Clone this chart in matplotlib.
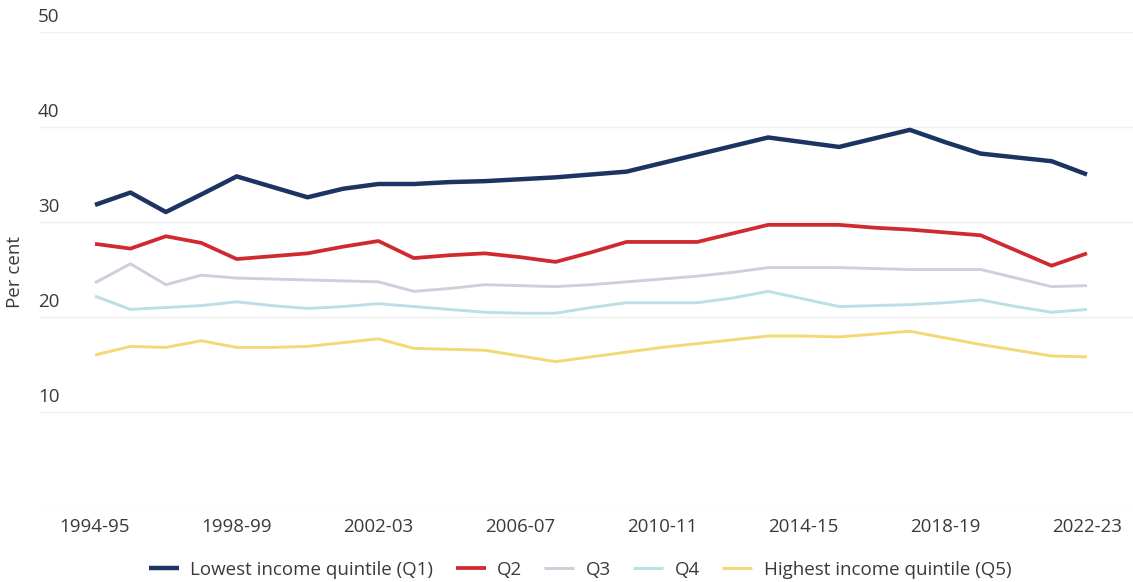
import matplotlib
matplotlib.use("Agg")
import matplotlib.pyplot as plt

plt.rcParams['font.family'] = ['Open Sans', 'DejaVu Sans']

years = ['1994-95', '1995-96', '1996-97', '1997-98', '1998-99', '1999-00',
         '2000-01', '2001-02', '2002-03', '2003-04', '2004-05', '2005-06',
         '2006-07', '2007-08', '2008-09', '2009-10', '2010-11', '2011-12',
         '2012-13', '2013-14', '2014-15', '2015-16', '2016-17', '2017-18',
         '2018-19', '2019-20', '2020-21', '2021-22', '2022-23']

q1 = [31.8, 33.1, 31.05, 32.9, 34.8, 33.7, 32.6, 33.5, 34.0, 34.0, 34.2, 34.3,
      34.5, 34.7, 35.0, 35.3, 36.2, 37.1, 38.0, 38.9, 38.4, 37.9, 38.8, 39.7,
      38.4, 37.2, 36.8, 36.4, 35.0]
q2 = [27.7, 27.2, 28.5, 27.8, 26.1, 26.4, 26.7, 27.4, 28.0, 26.2, 26.5, 26.7,
      26.3, 25.8, 26.8, 27.9, 27.9, 27.9, 28.8, 29.7, 29.7, 29.7, 29.4, 29.2,
      28.9, 28.6, 27.0, 25.4, 26.7]
q3 = [23.6, 25.6, 23.4, 24.4, 24.1, 24.0, 23.9, 23.8, 23.7, 22.7, 23.0, 23.4,
      23.3, 23.2, 23.4, 23.7, 24.0, 24.3, 24.7, 25.2, 25.2, 25.2, 25.1, 25.0,
      25.0, 25.0, 24.1, 23.2, 23.3]
q4 = [22.2, 20.8, 21.0, 21.2, 21.6, 21.2, 20.9, 21.1, 21.4, 21.1, 20.8, 20.5,
      20.4, 20.4, 21.0, 21.5, 21.5, 21.5, 22.0, 22.7, 21.9, 21.1, 21.2, 21.3,
      21.5, 21.8, 21.1, 20.5, 20.8]
q5 = [16.0, 16.9, 16.8, 17.5, 16.8, 16.8, 16.9, 17.3, 17.7, 16.7, 16.6, 16.5,
      15.9, 15.3, 15.8, 16.3, 16.8, 17.2, 17.6, 18.0, 18.0, 17.9, 18.2, 18.5,
      17.8, 17.1, 16.5, 15.9, 15.8]

SERIES = [
    ('Lowest income quintile (Q1)', q1, '#1b3461', 3.2),
    ('Q2', q2, '#cf2a2f', 2.7),
    ('Q3', q3, '#cfcfdb', 2.1),
    ('Q4', q4, '#bcdfe4', 2.1),
    ('Highest income quintile (Q5)', q5, '#f4d873', 2.1),
]

y_ticks = [10, 20, 30, 40, 50]
FS = 13.5
TXT = '#3a3a3a'


def main():
    fig = plt.figure(figsize=(11.33, 5.82), dpi=100)
    ax = fig.add_axes([40 / 1133, 75 / 582, 1 - 40 / 1133, (507 - 32) / 582])

    x = list(range(len(years)))
    for label, vals, color, lw in SERIES:
        ax.plot(x, vals, color=color, lw=lw, label=label,
                solid_joinstyle='round', solid_capstyle='butt')

    ax.set_ylim(0, 50)
    ax.set_xlim(-(95 - 40) / 35.43, 28 + (1133 - 1087) / 35.43)

    for v in [0] + y_ticks:
        ax.axhline(v, color='#efefef', lw=1, zorder=0)
    ax.set_yticks([])
    for v in y_ticks:
        ax.text(-0.002, v + 0.6, str(v), transform=ax.get_yaxis_transform(),
                ha='left', va='bottom', fontsize=FS, color=TXT)

    ticks = x[::4]
    ax.set_xticks(ticks)
    ax.set_xticklabels([years[i] for i in ticks], fontsize=FS, color=TXT)
    ax.tick_params(axis='x', length=0, pad=8)
    for s in ax.spines.values():
        s.set_visible(False)

    fig.text(15 / 1133, 1 - 272 / 582, 'Per cent', rotation=90, ha='center',
             va='center', fontsize=FS, color=TXT)

    fig.legend(loc='center', bbox_to_anchor=(580 / 1133, 1 - 570 / 582),
               ncol=5, frameon=False, fontsize=FS, handlelength=1.6,
               columnspacing=1.2, handletextpad=0.6, labelcolor=TXT)

    fig.savefig('out.png', dpi=100)


if __name__ == "__main__":
    main()
